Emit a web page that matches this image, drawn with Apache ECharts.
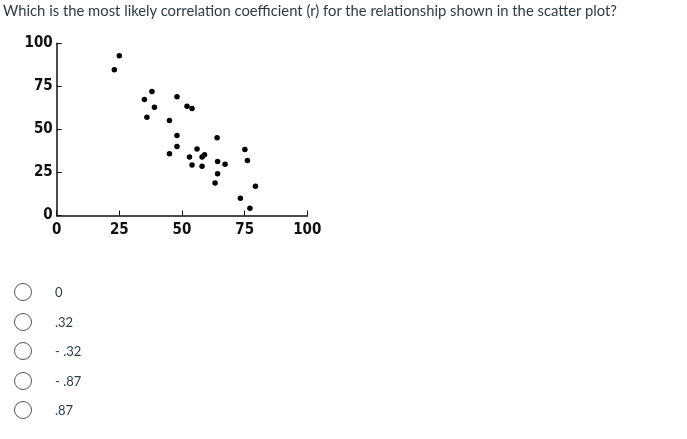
<!DOCTYPE html>
<html>
<head>
<meta charset="utf-8">
<script src="https://cdn.jsdelivr.net/npm/echarts@6/dist/echarts.min.js"></script>
<style>
    html, body {margin: 0; padding: 0; background: #fff;}
    #wrap {position: relative; width: 687px; height: 439px; overflow: hidden;}
    #chart {position: absolute; left: 0; top: 0; width: 687px; height: 439px;}
    .question {position: absolute; left: 3px; top: 1px; font-family: Lato, sans-serif; font-size: 14.8px; color: #2d3b45; white-space: nowrap;}
    .opt {position: absolute; left: 14px; height: 18px;}
    .opt .circle {position: absolute; left: 0; top: 0; width: 18px; height: 18px; border: 1px solid #555; border-radius: 50%; box-sizing: border-box;}
    .opt .lbl {position: absolute; left: 41px; top: 0; line-height: 18px; font-family: Lato, sans-serif; font-size: 13px; color: #2d3b45; white-space: nowrap;}
</style>
</head>
<body>
<div id="wrap">
    <div id="chart"></div>
    <div class="question">Which is the most likely correlation coefficient (r) for the relationship shown in the scatter plot?</div>
    <div id="options"></div>
</div>
<script>
    const x_vals = [23, 25, 35, 38, 36, 39, 45, 48, 52, 54, 48, 48, 45, 53, 54, 56, 58, 59, 58, 64, 64.2, 64.2, 63.2, 67.2, 75.1, 76.1, 79.3, 73.3, 77.1];
    const y_vals = [84.6, 92.7, 67.4, 72, 57.1, 62.9, 55.2, 68.9, 63.5, 62.2, 46.5, 40, 35.9, 34, 29.3, 38.6, 34, 35.3, 28.6, 45.2, 31.3, 24.3, 18.9, 29.7, 38.4, 31.9, 17, 10, 4.2];
    const tick_labels = ['0', '25', '50', '75', '100'];
    const answer_options = ['0', '.32', '- .32', '- .87', '.87'];

    let points = x_vals.map((x, i) => [x, y_vals[i]]);

    let opts_el = document.querySelector('#options');
    answer_options.forEach((text, i) => {
        let row = document.createElement('div');
        row.className = 'opt';
        row.style.top = (283 + i * 29.5) + 'px';
        row.innerHTML = `<div class="circle"></div><div class="lbl">${text}</div>`;
        opts_el.appendChild(row);
    });

    const axis_font = {fontFamily: 'DejaVu Sans Condensed', fontSize: 15, fontWeight: 'bold', color: '#111'};

    let option = {
        animation: false,
        grid: {left: 56.7, right: 379.7, top: 43.3, bottom: 223.5},
        xAxis: {
            type: 'value', min: 0, max: 100, interval: 25,
            axisLine: {lineStyle: {color: '#111', width: 1.5}},
            axisTick: {inside: true, length: 5, lineStyle: {color: '#111', width: 1}},
            axisLabel: Object.assign({margin: 7, formatter: (v) => tick_labels[v / 25]}, axis_font),
            splitLine: {show: false}
        },
        yAxis: {
            type: 'value', min: 0, max: 100, interval: 25,
            axisLine: {show: true, lineStyle: {color: '#111', width: 1.5}},
            axisTick: {show: true, inside: true, length: 5, lineStyle: {color: '#111', width: 1}},
            axisLabel: Object.assign({margin: 4, formatter: (v) => tick_labels[v / 25]}, axis_font),
            splitLine: {show: false}
        },
        series: [{
            type: 'scatter', data: points, symbolSize: 5.5,
            itemStyle: {color: '#000', opacity: 1}
        }]
    };

    let my_chart = echarts.init(document.querySelector('#chart'));
    my_chart.setOption(option);
</script>
</body>
</html>
